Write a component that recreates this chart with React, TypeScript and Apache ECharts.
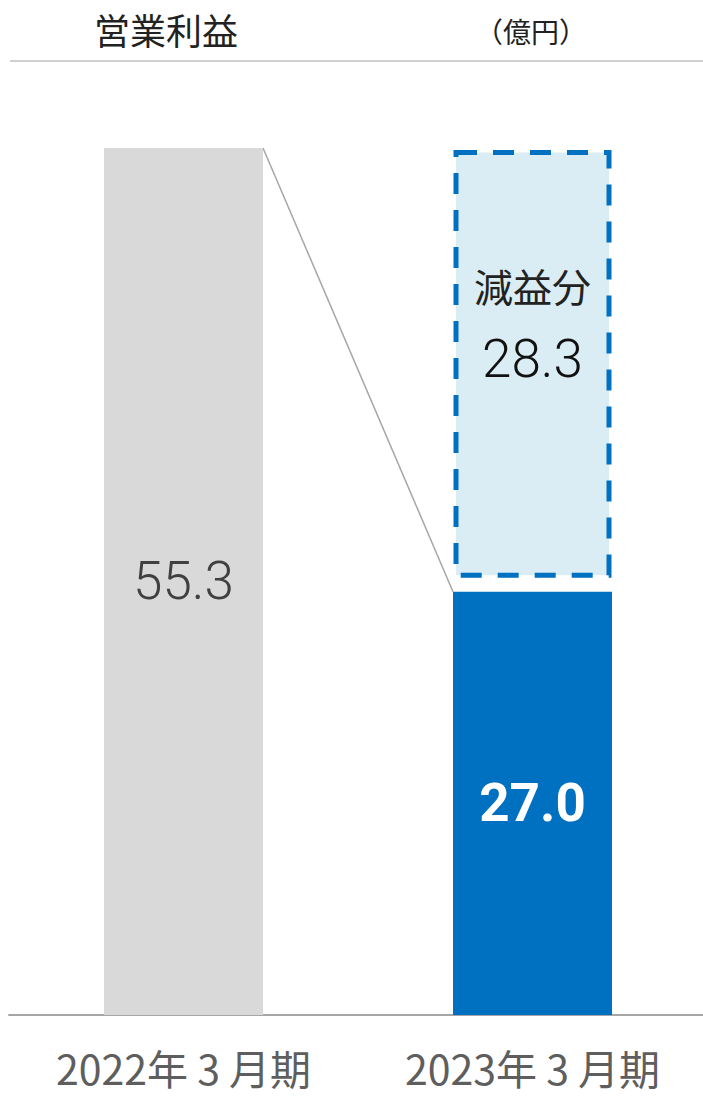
import React, { useEffect, useRef } from "react";
import * as echarts from "echarts";

const categories = ["2022年 3 月期", "2023年 3 月期"];
const prevProfit = [55.3, "-"];
const currProfit = ["-", 27.0];
const decrease = 28.3;
const titleText = "営業利益";
const unitText = "（億円）";
const decreaseLabel = "減益分";

const BAR_W = 159;
const CJK = '"Noto Sans CJK JP", "Noto Sans", sans-serif';
const NUM = 'Roboto, "Liberation Sans", sans-serif';
const LABEL_FONT = '"Noto Sans CJK JP", sans-serif';

export default function App() {
  const ref = useRef<HTMLDivElement>(null);
  useEffect(() => {
    document.body.style.margin = "0";
    const chart = echarts.init(ref.current!, null, { renderer: "svg" });
    const option: any = {
      animation: false,
      backgroundColor: "#ffffff",
      grid: { left: 9, width: 698, top: 74.3, height: 940.7, outerBoundsMode: "none", containLabel: false },
      xAxis: {
        type: "category",
        data: categories,
        axisLine: { lineStyle: { color: "#a6a6a6", width: 2 } },
        axisTick: { show: false },
        axisLabel: {
          interval: 0,
          color: "#5e5e5e",
          fontFamily: LABEL_FONT,
          fontSize: 41,
          lineHeight: 40,
          margin: 32,
        },
      },
      yAxis: {
        type: "value",
        min: 0,
        max: 60,
        show: false,
        splitLine: { show: false },
      },
      graphic: [
        {
          type: "line",
          shape: { x1: 10, y1: 61, x2: 703, y2: 61 },
          style: { stroke: "#d0d0d0", lineWidth: 2 },
        },
        {
          type: "text",
          x: 166,
          y: 29,
          style: {
            text: titleText,
            font: `36px ${CJK}`,
            fill: "#222222",
            align: "center",
            verticalAlign: "middle",
          },
        },
        {
          type: "text",
          x: 531,
          y: 31,
          style: {
            text: unitText,
            font: `28px ${CJK}`,
            fill: "#222222",
            align: "center",
            verticalAlign: "middle",
          },
        },
      ],
      series: [
        {
          type: "bar",
          stack: "s",
          barWidth: BAR_W,
          data: prevProfit,
          itemStyle: { color: "#d9d9d9" },
          label: {
            show: true,
            position: "inside",
            formatter: (p: any) => Number(p.value).toFixed(1),
            color: "#404040",
            fontFamily: NUM,
            fontWeight: 300,
            fontSize: 53,
          },
        },
        {
          type: "bar",
          stack: "s",
          barWidth: BAR_W,
          data: currProfit,
          itemStyle: { color: "#0070c0" },
          label: {
            show: true,
            position: "inside",
            formatter: (p: any) => Number(p.value).toFixed(1),
            color: "#ffffff",
            fontFamily: NUM,
            fontWeight: "bold",
            fontSize: 53,
          },
        },
        {
          type: "custom",
          data: [[0, prevProfit[0], 1, currProfit[1]]],
          renderItem: (params: any, api: any) => {
            const a = api.coord([api.value(0), api.value(1)]);
            const b = api.coord([api.value(2), api.value(3)]);
            return {
              type: "line",
              shape: { x1: a[0] + BAR_W / 2, y1: a[1], x2: b[0] - BAR_W / 2, y2: b[1] },
              style: { stroke: "#a6a6a6", lineWidth: 1.5 },
            };
          },
        },
        {
          type: "custom",
          data: [[1, currProfit[1], decrease]],
          renderItem: (params: any, api: any) => {
            const x = api.value(0);
            const base = api.value(1);
            const add = api.value(2);
            const p0 = api.coord([x, base]);
            const p1 = api.coord([x, base + add]);
            const left = p0[0] - BAR_W / 2 + 3;
            const top = p1[1] + 4.5;
            const bottom = p0[1] - 16.5;
            const cx = p0[0];
            const cy = (top + bottom) / 2;
            return {
              type: "group",
              children: [
                {
                  type: "rect",
                  shape: { x: left, y: top, width: BAR_W - 6, height: bottom - top },
                  style: {
                    fill: "#daedf4",
                    stroke: "#0070c0",
                    lineWidth: 5,
                    lineDash: [21, 16],
                  },
                },
                {
                  type: "text",
                  x: cx,
                  y: cy - 79,
                  style: {
                    text: decreaseLabel,
                    font: `39px ${CJK}`,
                    fill: "#222222",
                    align: "center",
                    verticalAlign: "middle",
                  },
                },
                {
                  type: "text",
                  x: cx,
                  y: cy - 5,
                  style: {
                    text: add.toFixed(1),
                    font: `300 53px ${NUM}`,
                    fill: "#111111",
                    align: "center",
                    verticalAlign: "middle",
                  },
                },
              ],
            };
          },
        },
      ],
    };
    chart.setOption(option);
    return () => chart.dispose();
  }, []);
  return <div ref={ref} style={{ width: 703, height: 1096 }} />;
}
